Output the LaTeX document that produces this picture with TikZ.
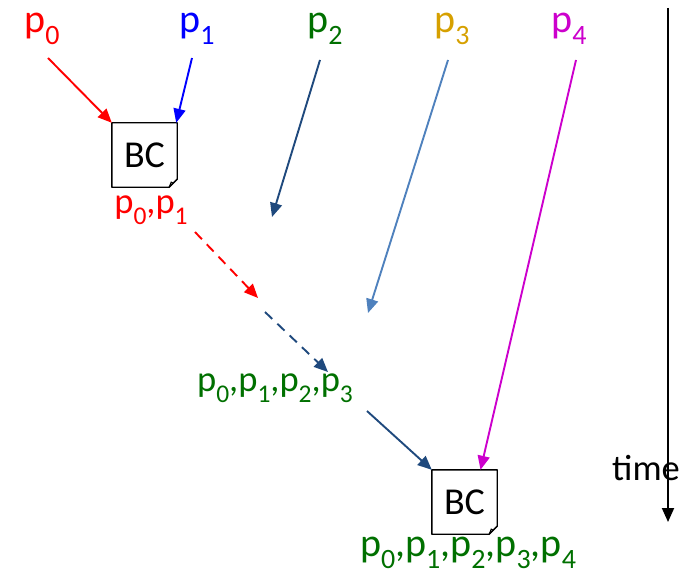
\documentclass[tikz,border=0pt]{standalone}
\usepackage{fontspec}
\setmainfont{Carlito}
\usetikzlibrary{arrows.meta,calc}
\definecolor{pgreen}{RGB}{0,112,0}
\definecolor{pgold}{RGB}{214,160,0}
\definecolor{pmag}{RGB}{204,0,204}
\definecolor{dblue}{RGB}{31,73,125}
\definecolor{lblue}{RGB}{79,129,189}
\newcommand\ssub[1]{\raisebox{-11pt}{\fontsize{25.5}{25}\selectfont #1}}
\newcommand\bsub[1]{\raisebox{-12pt}{\fontsize{28}{28}\selectfont #1}}
\newcommand\drawdoc[1]{%
  \draw[line width=1.4pt,line join=round] (#1.north west) -- (#1.north east) -- ([yshift=8pt]#1.south east) -- ([xshift=-8pt]#1.south east) -- (#1.south west) -- cycle;
  \draw[line width=1.1pt,line join=round,fill=white] ([yshift=8pt]#1.south east) -- ([xshift=-4pt,yshift=4pt]#1.south east) -- ([xshift=-8pt]#1.south east);
  \draw[line width=1.1pt] ([xshift=-4pt,yshift=4pt]#1.south east) -- ([xshift=-6pt,yshift=5pt]#1.south east) -- ([xshift=-8pt]#1.south east);
}
\begin{document}
\begin{tikzpicture}[x=1pt,y=-1pt,
  lbl/.style={inner sep=0pt,font=\fontsize{36.5}{40}\selectfont},
  big/.style={inner sep=0pt,font=\fontsize{40}{44}\selectfont},
  doc/.style={minimum width=65pt,minimum height=64pt,inner sep=0pt,font=\fontsize{38}{40}\selectfont},
  arr/.style={line width=1.9pt,-{Triangle[length=14pt,width=12pt]}},
  dsh/.style={arr,dash pattern=on 10pt off 7pt}]
\useasboundingbox (0,0) rectangle (684,580);
% process labels
\node[big,text=red]    (p0) at (42,29)  {p\bsub{0}};
\node[big,text=blue]   (p1) at (197,29) {p\bsub{1}};
\node[big,text=pgreen] (p2) at (325,29) {p\bsub{2}};
\node[big,text=pgold]  (p3) at (452,29) {p\bsub{3}};
\node[big,text=pmag]   (p4) at (569,29) {p\bsub{4}};
% BC boxes
\node[doc] (bc1) at (144.5,155) {BC};
\node[doc] (bc2) at (464.5,502) {BC};
\drawdoc{bc1}
\drawdoc{bc2}
% set labels
\node[lbl,text=red]    (s1) at (151,210) {p\ssub{0},p\ssub{1}};
\node[lbl,text=pgreen] (s2) at (275,388) {p\ssub{0},p\ssub{1},p\ssub{2},p\ssub{3}};
\node[big,text=pgreen] (s3) at (468,553) {p\bsub{0},p\bsub{1},p\bsub{2},p\bsub{3},p\bsub{4}};
% coordinates
\coordinate (a0) at (48,58);
\coordinate (a1) at (192,58);
\coordinate (a2) at (320,60);
\coordinate (e2) at (272,217);
\coordinate (a3) at (448,60);
\coordinate (e3) at (368,313);
\coordinate (a4) at (576,60);
\coordinate (r1) at (195,232);
\coordinate (r2) at (258,298);
\coordinate (b1) at (265,312);
\coordinate (b2) at (328,372);
\coordinate (c1) at (367,411);
\coordinate (t0) at (668,8);
\coordinate (t1) at (668,522);
% arrows
\draw[arr,red] (a0) -- (bc1.north west);
\draw[arr,blue] (a1) -- ([xshift=-1pt]bc1.north east);
\draw[arr,dblue] (a2) -- (e2);
\draw[arr,lblue] (a3) -- (e3);
\draw[dsh,red] (r1) -- (r2);
\draw[dsh,dblue] (b1) -- (b2);
\draw[arr,dblue] (c1) -- (bc2.north west);
\draw[arr,pmag] (a4) -- ([xshift=16pt]bc2.north);
% time axis
\draw[arr] (t0) -- (t1);
\node[lbl] (time) at (646,468) {time};
\end{tikzpicture}
\end{document}
